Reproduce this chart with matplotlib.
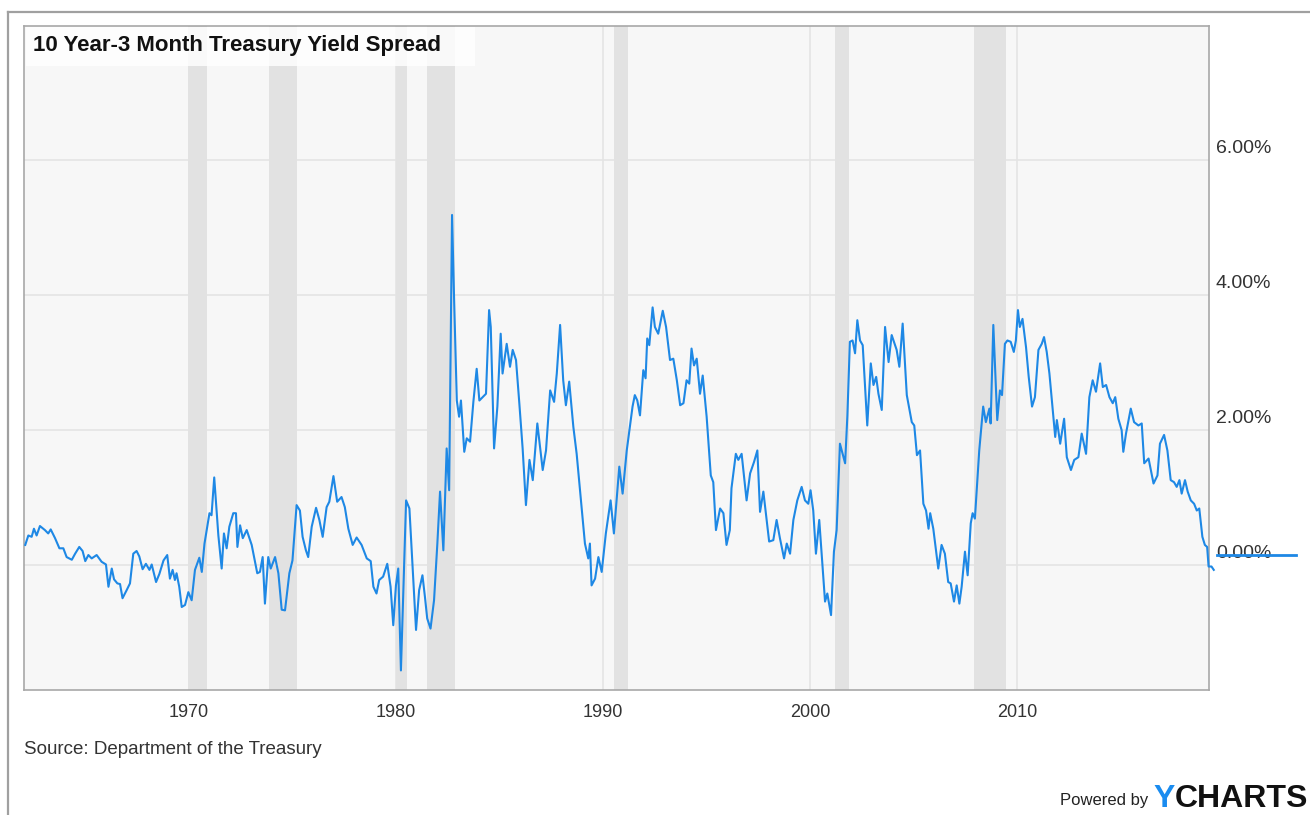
import matplotlib
matplotlib.use("Agg")
import matplotlib.pyplot as plt
from matplotlib.lines import Line2D
from matplotlib.patches import Rectangle
from matplotlib.transforms import ScaledTranslation

plt.rcParams['font.family'] = ['Liberation Sans', 'DejaVu Sans']

# ---------------- data ----------------
years = [
    1962.09, 1962.24, 1962.40, 1962.51, 1962.64, 1962.80, 1963.04, 1963.20, 1963.32, 1963.53,
    1963.74, 1963.93, 1964.09, 1964.34, 1964.50, 1964.70, 1964.86, 1964.99, 1965.14, 1965.30,
    1965.54, 1965.78, 1965.99, 1966.11, 1966.27, 1966.38, 1966.54, 1966.67, 1966.79, 1966.99,
    1967.15, 1967.31, 1967.47, 1967.60, 1967.76, 1967.92, 1968.09, 1968.20, 1968.41, 1968.57,
    1968.77, 1968.95, 1969.08, 1969.21, 1969.32, 1969.40, 1969.53, 1969.65, 1969.81, 1969.97,
    1970.13, 1970.29, 1970.50, 1970.62, 1970.75, 1970.99, 1971.09, 1971.22, 1971.42, 1971.58,
    1971.69, 1971.82, 1971.95, 1972.14, 1972.27, 1972.34, 1972.47, 1972.60, 1972.79, 1973.03,
    1973.30, 1973.43, 1973.56, 1973.67, 1973.83, 1973.95, 1974.16, 1974.32, 1974.48, 1974.64,
    1974.85, 1975.00, 1975.20, 1975.36, 1975.49, 1975.65, 1975.76, 1975.93, 1976.14, 1976.30,
    1976.46, 1976.65, 1976.78, 1976.98,
    1977.16, 1977.37, 1977.53, 1977.70, 1977.91, 1978.10, 1978.34, 1978.59, 1978.78, 1978.91,
    1979.06, 1979.19, 1979.38, 1979.58, 1979.74, 1979.87, 1980.00, 1980.11, 1980.24, 1980.49,
    1980.65, 1980.81, 1980.97, 1981.12, 1981.28, 1981.40, 1981.51, 1981.67, 1981.84, 1982.00,
    1982.13, 1982.29, 1982.45, 1982.57, 1982.71, 1982.81, 1982.94, 1983.05, 1983.14, 1983.30,
    1983.42, 1983.58, 1983.74, 1983.90, 1984.03, 1984.19, 1984.35, 1984.50, 1984.58, 1984.74,
    1984.90, 1985.06, 1985.15, 1985.35, 1985.51, 1985.64, 1985.80, 1985.96, 1986.12, 1986.28,
    1986.45, 1986.61, 1986.83, 1987.09, 1987.25, 1987.45, 1987.64, 1987.77, 1987.93, 1988.08,
    1988.21, 1988.37, 1988.57, 1988.73, 1988.92, 1989.13, 1989.29, 1989.37, 1989.45, 1989.62,
    1989.78, 1989.94, 1990.14, 1990.37, 1990.53, 1990.79, 1990.95, 1991.15,
    1991.43, 1991.54, 1991.66, 1991.79, 1991.95, 1992.06, 1992.14, 1992.24, 1992.40, 1992.51,
    1992.67, 1992.89, 1993.05, 1993.24, 1993.40, 1993.57, 1993.73, 1993.89, 1994.04, 1994.17,
    1994.28, 1994.40, 1994.53, 1994.69, 1994.82, 1995.01, 1995.21, 1995.33, 1995.46, 1995.66,
    1995.82, 1995.97, 1996.13, 1996.21, 1996.42, 1996.54, 1996.70, 1996.94, 1997.11, 1997.30,
    1997.46, 1997.59, 1997.75, 1997.91, 1998.03, 1998.23, 1998.39, 1998.55, 1998.75, 1998.88,
    1999.04, 1999.20, 1999.39, 1999.60, 1999.76, 1999.92, 2000.03, 2000.16, 2000.29, 2000.45,
    2000.61, 2000.73, 2000.84, 2001.02, 2001.16, 2001.29, 2001.45, 2001.70, 2001.81, 2001.93,
    2002.06, 2002.18, 2002.29, 2002.42, 2002.55, 2002.77, 2002.94, 2003.07, 2003.20, 2003.31,
    2003.47, 2003.63, 2003.80, 2003.95, 2004.19, 2004.32, 2004.48, 2004.68, 2004.92, 2005.04,
    2005.17,
    2005.32, 2005.48, 2005.61, 2005.73, 2005.81, 2005.96, 2006.20, 2006.36, 2006.52, 2006.68,
    2006.80, 2006.96, 2007.09, 2007.22, 2007.33, 2007.49, 2007.62, 2007.77, 2007.86, 2007.97,
    2008.18, 2008.37, 2008.50, 2008.67, 2008.73, 2008.86, 2009.05, 2009.18, 2009.28, 2009.42,
    2009.54, 2009.70, 2009.85, 2009.95, 2010.05, 2010.14, 2010.27, 2010.44, 2010.57, 2010.73,
    2010.87, 2011.04, 2011.20, 2011.31, 2011.44, 2011.57, 2011.73, 2011.85, 2011.93, 2012.09,
    2012.28, 2012.41, 2012.61, 2012.77, 2012.97, 2013.13, 2013.34, 2013.50, 2013.66, 2013.82,
    2014.02, 2014.15, 2014.31, 2014.47, 2014.63, 2014.75, 2014.90, 2015.06, 2015.14, 2015.27,
    2015.50, 2015.66, 2015.87, 2016.03, 2016.15, 2016.36, 2016.60, 2016.79, 2016.91, 2017.11,
    2017.27, 2017.43, 2017.59, 2017.72, 2017.85, 2017.96, 2018.12, 2018.25, 2018.40, 2018.56,
    2018.69, 2018.81, 2018.96, 2019.08, 2019.19, 2019.26, 2019.40, 2019.51,
]

spread = [
    0.30, 0.44, 0.42, 0.54, 0.44, 0.58, 0.52, 0.47, 0.53, 0.40,
    0.25, 0.25, 0.12, 0.08, 0.17, 0.27, 0.21, 0.06, 0.15, 0.10,
    0.15, 0.05, 0.01, -0.32, -0.05, -0.21, -0.27, -0.28, -0.49, -0.37,
    -0.27, 0.17, 0.21, 0.13, -0.06, 0.02, -0.07, 0.01, -0.25, -0.13,
    0.07, 0.15, -0.20, -0.07, -0.22, -0.12, -0.32, -0.62, -0.59, -0.40,
    -0.52, -0.07, 0.11, -0.10, 0.32, 0.77, 0.74, 1.30, 0.44, -0.05,
    0.47, 0.25, 0.57, 0.77, 0.77, 0.27, 0.59, 0.40, 0.52, 0.30,
    -0.12, -0.10, 0.12, -0.57, 0.12, -0.05, 0.12, -0.12, -0.66, -0.67,
    -0.12, 0.07, 0.89, 0.81, 0.42, 0.22, 0.12, 0.57, 0.85, 0.67,
    0.42, 0.86, 0.94, 1.32,
    0.94, 1.01, 0.86, 0.54, 0.30, 0.41, 0.30, 0.10, 0.06, -0.32,
    -0.42, -0.22, -0.17, 0.02, -0.32, -0.89, -0.30, -0.05, -1.56, 0.96,
    0.84, -0.07, -0.96, -0.37, -0.15, -0.47, -0.79, -0.94, -0.52, 0.32,
    1.09, 0.22, 1.73, 1.11, 5.19, 3.93, 2.44, 2.20, 2.44, 1.68,
    1.88, 1.83, 2.42, 2.91, 2.44, 2.49, 2.54, 3.78, 3.53, 1.73,
    2.35, 3.43, 2.84, 3.28, 2.94, 3.19, 3.04, 2.40, 1.73, 0.89,
    1.56, 1.26, 2.10, 1.41, 1.70, 2.59, 2.42, 2.84, 3.56, 2.74,
    2.37, 2.72, 2.05, 1.65, 1.01, 0.32, 0.10, 0.32, -0.30, -0.20,
    0.12, -0.10, 0.47, 0.96, 0.47, 1.46, 1.06, 1.70,
    2.35, 2.52, 2.44, 2.22, 2.89, 2.77, 3.36, 3.26, 3.82, 3.53,
    3.43, 3.77, 3.53, 3.04, 3.06, 2.74, 2.37, 2.40, 2.74, 2.69,
    3.21, 2.96, 3.06, 2.54, 2.81, 2.20, 1.33, 1.23, 0.52, 0.84,
    0.77, 0.30, 0.52, 1.14, 1.65, 1.56, 1.65, 0.96, 1.36, 1.53,
    1.70, 0.79, 1.09, 0.67, 0.35, 0.37, 0.67, 0.40, 0.10, 0.32,
    0.17, 0.67, 0.96, 1.16, 0.96, 0.91, 1.11, 0.81, 0.17, 0.67,
    -0.02, -0.54, -0.42, -0.74, 0.20, 0.52, 1.80, 1.51, 2.22, 3.31,
    3.33, 3.14, 3.63, 3.33, 3.26, 2.07, 2.99, 2.67, 2.79, 2.54,
    2.30, 3.53, 3.01, 3.41, 3.19, 2.94, 3.58, 2.52, 2.12, 2.07,
    1.63,
    1.70, 0.91, 0.81, 0.54, 0.77, 0.54, -0.05, 0.30, 0.17, -0.25,
    -0.27, -0.54, -0.30, -0.57, -0.32, 0.20, -0.15, 0.62, 0.77, 0.69,
    1.70, 2.35, 2.12, 2.32, 2.10, 3.56, 2.15, 2.59, 2.52, 3.28,
    3.33, 3.31, 3.16, 3.33, 3.78, 3.53, 3.65, 3.23, 2.79, 2.35,
    2.49, 3.19, 3.28, 3.38, 3.16, 2.84, 2.30, 1.90, 2.15, 1.80,
    2.17, 1.60, 1.41, 1.56, 1.60, 1.95, 1.65, 2.49, 2.74, 2.57,
    2.99, 2.64, 2.67, 2.49, 2.40, 2.49, 2.17, 2.00, 1.68, 1.95,
    2.32, 2.12, 2.07, 2.10, 1.51, 1.58, 1.21, 1.33, 1.80, 1.93,
    1.70, 1.26, 1.23, 1.16, 1.26, 1.06, 1.26, 1.09, 0.96, 0.91,
    0.81, 0.84, 0.42, 0.30, 0.27, -0.02, -0.02, -0.07,
]

recession_start = [1969.95, 1973.88, 1980.00, 1981.50, 1990.55, 2001.20, 2007.95]
recession_end = [1970.87, 1975.20, 1980.53, 1982.87, 1991.20, 2001.87, 2009.45]

x_ticks = [1970, 1980, 1990, 2000, 2010]
y_ticks = [0, 2, 4, 6]
y_tick_labels = ["0.00%", "2.00%", "4.00%", "6.00%"]
flag_level = 0.15

title = "10 Year-3 Month Treasury Yield Spread"
source = "Source: Department of the Treasury"

# ---------------- figure ----------------
W, H = 1310, 815
fig = plt.figure(figsize=(W / 100, H / 100), dpi=100)
fig.patch.set_facecolor("white")
ax = fig.add_axes([24 / W, 1 - 690 / H, 1185 / W, 664 / H])
ax.set_facecolor("#f7f7f7")

for s, e in zip(recession_start, recession_end):
    ax.axvspan(s, e, color="#e2e2e2", lw=0, zorder=1)

line_color = "#1e88e5"
ax.plot(years, spread, color=line_color, lw=1.5, zorder=4, clip_on=False,
        solid_joinstyle="round")

ax.set_xlim(1962.03, 2019.28)
ax.set_ylim(-1.85, 7.99)

ax.set_xticks(x_ticks)
ax.set_xticklabels([str(t) for t in x_ticks])
ax.set_yticks(y_ticks)
ax.set_yticklabels(y_tick_labels)
ax.yaxis.tick_right()
ax.tick_params(axis="both", length=0, colors="#333333")
ax.tick_params(axis="x", pad=10, labelsize=13)
ax.tick_params(axis="y", pad=5, labelsize=14)
for lab in ax.get_yticklabels():
    lab.set_verticalalignment("bottom")
    lab.set_transform(lab.get_transform() + ScaledTranslation(0, 2.5 / 72, fig.dpi_scale_trans))

ax.set_axisbelow(True)
ax.grid(True, color="#e4e4e4", lw=1.2)
for sp in ax.spines.values():
    sp.set_color("#a8a8a8")
    sp.set_linewidth(1.2)

# last value flag line to the right of the plot
ax.plot([1.007, 1.073], [flag_level, flag_level], color=line_color, lw=2,
        transform=ax.get_yaxis_transform(), clip_on=False, zorder=5)

# title box
ax.add_patch(Rectangle((2 / 1185, (690 - 66) / 664), 449 / 1185, 39 / 664,
                       transform=ax.transAxes, facecolor="white", alpha=0.82,
                       edgecolor="none", zorder=3))
ax.text(9 / 1185, (690 - 46) / 664, title, transform=ax.transAxes,
        fontsize=16, fontweight="bold", color="#111111", va="center", ha="left", zorder=6)

# footer texts
fig.text(24 / W, 1 - 750 / H, source, fontsize=13.5, color="#333333", va="center", ha="left")
fig.text(1148 / W, 1 - 801 / H, "Powered by", fontsize=12, color="#222222",
         va="center", ha="right")
ytxt = fig.text(1153 / W, 1 - 807 / H, "Y", fontsize=23, fontweight="bold",
                color="#1a8cf0", va="baseline", ha="left")
ax.annotate("CHARTS", xy=(1, 0), xycoords=ytxt, fontsize=23, fontweight="bold",
            color="#111111", va="bottom", ha="left", annotation_clip=False)

# outer frame
fig.add_artist(Line2D([8 / W, 1], [1 - 12 / H, 1 - 12 / H], color="#a0a0a0", lw=1.6))
fig.add_artist(Line2D([8 / W, 8 / W], [0, 1 - 12 / H], color="#a0a0a0", lw=1.6))

fig.savefig("out.png", dpi=100, facecolor="white")
